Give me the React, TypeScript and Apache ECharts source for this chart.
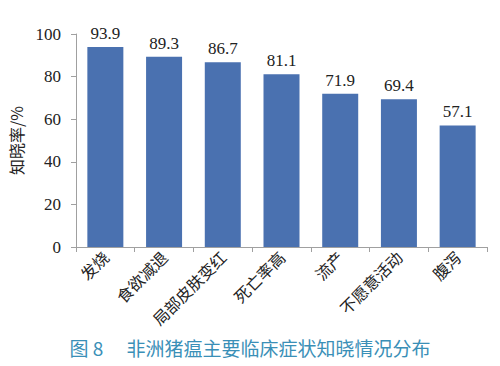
import React, { useEffect, useRef } from "react";
import * as echarts from "echarts";

const categories = ["发烧", "食欲减退", "局部皮肤变红", "死亡率高", "流产", "不愿意活动", "腹泻"];
const values = [93.9, 89.3, 86.7, 81.1, 71.9, 69.4, 57.1];
const yTicks = [0, 20, 40, 60, 80, 100];
const yName = "知晓率/%";
const caption = "图 8\u3000 非洲猪瘟主要临床症状知晓情况分布";

export default function App() {
  const ref = useRef<HTMLDivElement>(null);
  useEffect(() => {
    const chart = echarts.init(ref.current!, null, { renderer: "svg" });
    const serif = "Times New Roman, Liberation Serif, Tinos, DejaVu Serif";
    const cjk = "Noto Sans CJK SC";
    chart.setOption({
      animation: false,
      backgroundColor: "#ffffff",
      title: {
        text: caption,
        left: "center",
        top: 333,
        textStyle: {
          fontFamily: cjk,
          fontSize: 19,
          fontWeight: "normal",
          color: "#3a8fb7",
        },
      },
      grid: { left: 72, right: 13, top: 34, bottom: 119 },
      xAxis: {
        type: "category",
        data: categories,
        axisLine: { lineStyle: { color: "#a0a0a0", width: 1 } },
        axisTick: { show: true, alignWithLabel: false, length: 5, lineStyle: { color: "#a0a0a0" } },
        axisLabel: {
          rotate: 45,
          interval: 0,
          fontSize: 16,
          color: "#222",
          margin: 7,
          fontFamily: cjk,
        },
      },
      yAxis: {
        type: "value",
        min: yTicks[0],
        max: yTicks[yTicks.length - 1],
        interval: 20,
        name: yName,
        nameLocation: "middle",
        nameGap: 52,
        nameRotate: 90,
        nameTextStyle: { fontSize: 16, color: "#222", fontFamily: cjk },
        axisLine: { show: true, lineStyle: { color: "#a0a0a0" } },
        axisTick: { show: true, length: 5, lineStyle: { color: "#a0a0a0" } },
        splitLine: { show: false },
        axisLabel: { fontSize: 17, color: "#222", fontFamily: serif, margin: 15 },
      },
      series: [
        {
          type: "bar",
          data: values,
          barWidth: 36,
          itemStyle: { color: "#4a71b0" },
          label: {
            show: true,
            position: "top",
            distance: 5,
            fontSize: 17,
            color: "#222",
            fontFamily: serif,
            formatter: (p: any) => p.value.toFixed(1),
          },
        },
      ],
    });
    return () => chart.dispose();
  }, []);
  return <div ref={ref} style={{ width: 500, height: 366, position: "absolute", left: 0, top: 0 }} />;
}
